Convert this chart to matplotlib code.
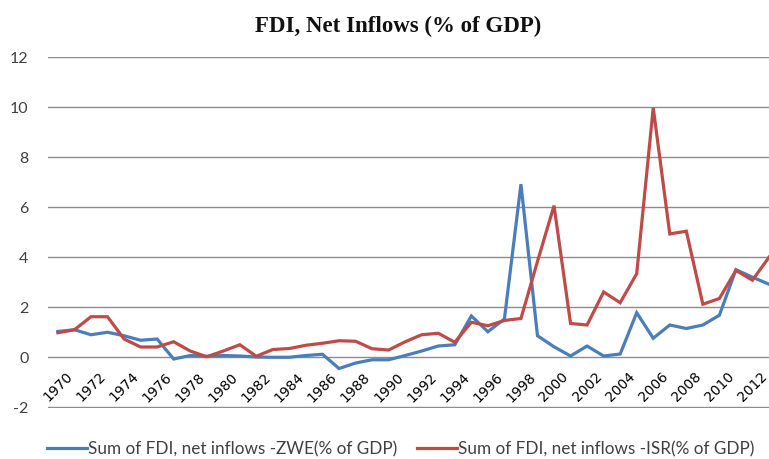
import numpy as np
import matplotlib
matplotlib.use('Agg')
import matplotlib.pyplot as plt

years = list(range(1970, 2014))
zwe = [1.03, 1.10, 0.90, 1.00, 0.86, 0.68, 0.73, -0.07, 0.07, 0.04,
       0.07, 0.05, 0.01, 0.00, 0.00, 0.07, 0.12, -0.45, -0.23, -0.10,
       -0.10, 0.07, 0.25, 0.45, 0.50, 1.65, 1.02, 1.53, 6.92, 0.86,
       0.42, 0.05, 0.45, 0.05, 0.13, 1.78, 0.76, 1.29, 1.15, 1.29,
       1.68, 3.50, 3.20, 2.92]
isr = [0.98, 1.10, 1.62, 1.62, 0.73, 0.41, 0.41, 0.62, 0.25, 0.02,
       0.25, 0.50, 0.04, 0.31, 0.35, 0.48, 0.56, 0.66, 0.64, 0.34,
       0.29, 0.62, 0.90, 0.96, 0.60, 1.40, 1.26, 1.47, 1.55, 3.83,
       6.06, 1.35, 1.29, 2.61, 2.18, 3.34, 9.97, 4.93, 5.04, 2.12,
       2.35, 3.47, 3.08, 4.00]
xtick_years = list(range(1970, 2013, 2))
yticks = list(range(-2, 13, 2))

BLUE = '#4a7ebb'
RED = '#be4b48'
TXT = '#404040'
SANS = ['Lato', 'DejaVu Sans']

fig = plt.figure(figsize=(7.69, 4.59), dpi=100)
ax = fig.add_axes([0.0624, 0.111, 0.9376, 0.7647])

ax.plot(years, zwe, color=BLUE, lw=2.3, label='Sum of FDI, net inflows -ZWE(% of GDP)',
        solid_joinstyle='miter')
ax.plot(years, isr, color=RED, lw=2.3, label='Sum of FDI, net inflows -ISR(% of GDP)',
        solid_joinstyle='miter')

ax.set_xlim(1969.4, 2013.0)
ax.set_ylim(-2.03, 12)
ax.set_yticks(yticks)
ax.set_xticks(xtick_years)
ax.tick_params(axis='y', length=0, pad=14)
ax.tick_params(axis='x', length=0, pad=9, labelrotation=45)
ax.set_xticklabels([str(y) for y in xtick_years], fontsize=12.2, family=SANS, color=TXT)
ax.set_yticklabels([str(v) for v in yticks], fontsize=11.5, family=SANS, color=TXT)
plt.setp(ax.get_xticklabels(), rotation=45, ha='right', va='center', rotation_mode='anchor')
ax.yaxis.grid(True, color='#8c8c8c', lw=1)
ax.set_axisbelow(True)
for s in ['top', 'right', 'left']:
    ax.spines[s].set_visible(False)
ax.spines['bottom'].set_position(('data', 0))
ax.spines['bottom'].set_visible(False)

fig.text(0.518, 0.943, 'FDI, Net Inflows (% of GDP)', ha='center', va='center',
         fontsize=16.5, fontweight='bold', family='Liberation Serif', color='#111111')

fig.legend(loc='center', bbox_to_anchor=(0.521, 0.022), ncol=2, frameon=False,
           prop={'family': SANS, 'size': 12.3}, handlelength=2.35, handletextpad=0.05,
           columnspacing=1.15, labelcolor=TXT, borderpad=0.1)

fig.savefig('out.png', dpi=100)
